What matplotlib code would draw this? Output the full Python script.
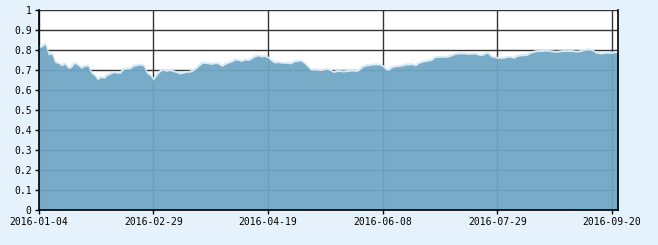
import matplotlib
matplotlib.use("Agg")
import matplotlib.pyplot as plt
import numpy as np

# Trading-day series (index positions on a categorical date axis)
values = [
    0.813, 0.815, 0.828, 0.775, 0.780, 0.737, 0.733, 0.720, 0.730, 0.708,
    0.712, 0.733, 0.723, 0.708, 0.717, 0.720, 0.685, 0.672, 0.650, 0.662,
    0.658, 0.672, 0.680, 0.687, 0.683, 0.683, 0.703, 0.705, 0.705, 0.718,
    0.722, 0.725, 0.720, 0.683, 0.672, 0.650, 0.670, 0.690, 0.700, 0.693,
    0.697, 0.692, 0.687, 0.680, 0.683, 0.688, 0.688, 0.694, 0.705, 0.720,
    0.733, 0.733, 0.730, 0.728, 0.733, 0.728, 0.717, 0.728, 0.735, 0.740,
    0.750, 0.747, 0.742, 0.750, 0.747, 0.755, 0.765, 0.770, 0.765, 0.767,
    0.760, 0.745, 0.735, 0.737, 0.734, 0.733, 0.733, 0.730, 0.740, 0.743,
    0.745, 0.733, 0.717, 0.700, 0.700, 0.700, 0.697, 0.700, 0.703, 0.697,
    0.687, 0.692, 0.692, 0.690, 0.692, 0.694, 0.695, 0.692, 0.700, 0.715,
    0.720, 0.722, 0.725, 0.725, 0.725, 0.718, 0.700, 0.700, 0.713, 0.716,
    0.718, 0.720, 0.725, 0.725, 0.727, 0.720, 0.732, 0.738, 0.742, 0.745,
    0.748, 0.762, 0.763, 0.763, 0.763, 0.765, 0.770, 0.777, 0.780, 0.780,
    0.780, 0.778, 0.779, 0.780, 0.775, 0.771, 0.777, 0.783, 0.766, 0.762,
    0.758, 0.758, 0.758, 0.763, 0.763, 0.758, 0.767, 0.770, 0.772, 0.772,
    0.782, 0.788, 0.792, 0.792, 0.793, 0.795, 0.792, 0.790, 0.788, 0.790,
    0.792, 0.792, 0.792, 0.792, 0.789, 0.790, 0.795, 0.799, 0.800, 0.797,
    0.784, 0.781, 0.780, 0.783, 0.783, 0.783, 0.787, 0.787,
]
x_tick_labels = ["2016-01-04", "2016-02-29", "2016-04-19",
                 "2016-06-08", "2016-07-29", "2016-09-20"]
tick_step = 35
y_ticks = [0, 0.1, 0.2, 0.3, 0.4, 0.5, 0.6, 0.7, 0.8, 0.9, 1]
y_tick_labels = ["0", "0.1", "0.2", "0.3", "0.4", "0.5", "0.6",
                 "0.7", "0.8", "0.9", "1"]

x = np.arange(len(values))

fig = plt.figure(figsize=(6.58, 2.45), dpi=100)
fig.patch.set_facecolor("#e6f2fb")
ax = fig.add_axes([38.5 / 658, 35 / 245, 580 / 658, 200 / 245])
ax.set_facecolor("white")

ax.plot(x, values, color="#d6ebf7", lw=2.2, zorder=2, solid_joinstyle="round")
ax.fill_between(x, 0, values, color="#6fa6c4", alpha=0.94, lw=0, zorder=3)

ax.set_xlim(0, len(values) - 1)
ax.set_ylim(0, 1)
ax.set_xticks([i * tick_step for i in range(len(x_tick_labels))])
ax.set_xticklabels(x_tick_labels)
ax.set_yticks(y_ticks)
ax.set_yticklabels(y_tick_labels)

ax.grid(True, color="#333333", lw=1.0, zorder=1)
ax.set_axisbelow(True)

for side in ["left", "bottom", "right"]:
    ax.spines[side].set_color("black")
    ax.spines[side].set_linewidth(1.2)
    ax.spines[side].set_zorder(5)
ax.spines["top"].set_visible(False)

ax.tick_params(axis="both", direction="out", length=3, width=1,
               color="black", labelsize=7, pad=2)
for lab in ax.get_xticklabels() + ax.get_yticklabels():
    lab.set_fontfamily("DejaVu Sans Mono")

fig.savefig("out.png", dpi=100, facecolor=fig.get_facecolor())
